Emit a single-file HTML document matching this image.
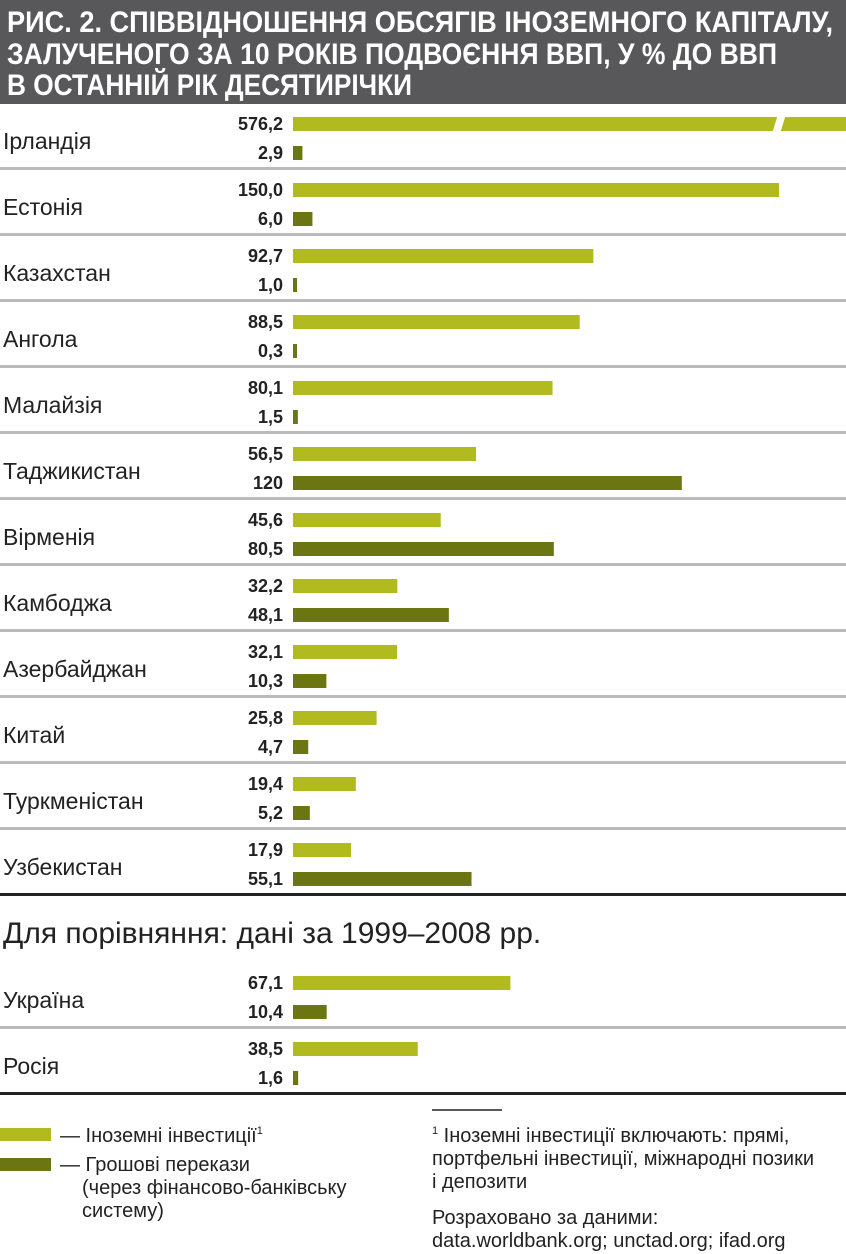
<!DOCTYPE html>
<html><head><meta charset="utf-8"><style>
html,body{margin:0;padding:0;background:#fff;}
svg{display:block;}
</style></head><body>
<svg id="chart" width="846" height="1254" xmlns="http://www.w3.org/2000/svg" font-family="'Liberation Sans', sans-serif">
<rect x="0" y="0" width="846" height="104" fill="#58585a"/>
<g fill="#fff" font-weight="bold" font-size="30">
<text x="7" y="32" textLength="826" lengthAdjust="spacingAndGlyphs">РИС. 2. СПІВВІДНОШЕННЯ ОБСЯГІВ ІНОЗЕМНОГО КАПІТАЛУ,</text>
<text x="7" y="64" textLength="770" lengthAdjust="spacingAndGlyphs">ЗАЛУЧЕНОГО ЗА 10 РОКІВ ПОДВОЄННЯ ВВП, У % ДО ВВП</text>
<text x="7" y="95" textLength="405" lengthAdjust="spacingAndGlyphs">В ОСТАННІЙ РІК ДЕСЯТИРІЧКИ</text>
</g>
<g id="bars"></g>
<text x="3" y="943" font-size="30" fill="#222">Для порівняння: дані за 1999–2008 рр.</text>
<g font-size="20" fill="#222">
<rect x="0" y="1128" width="51" height="13" fill="#b1bb20"/>
<text x="60" y="1142">— Іноземні інвестиції<tspan font-size="11" dy="-8">1</tspan></text>
<rect x="0" y="1158" width="51" height="13" fill="#6b7511"/>
<text x="60" y="1171">— Грошові перекази</text>
<text x="82" y="1194">(через фінансово-банківську</text>
<text x="82" y="1217">систему)</text>
</g>
<g font-size="20" fill="#222">
<line x1="432" y1="1110" x2="502" y2="1110" stroke="#222" stroke-width="1.5"/>
<text x="432" y="1142"><tspan font-size="11" dy="-8">1</tspan><tspan dy="8"> Іноземні інвестиції включають: прямі,</tspan></text>
<text x="432" y="1165">портфельні інвестиції, міжнародні позики</text>
<text x="432" y="1188">і депозити</text>
<text x="432" y="1224">Розраховано за даними:</text>
<text x="432" y="1247">data.worldbank.org; unctad.org; ifad.org</text>
</g>
</svg>
<script>
const countries = ["Ірландія","Естонія","Казахстан","Ангола","Малайзія","Таджикистан","Вірменія","Камбоджа","Азербайджан","Китай","Туркменістан","Узбекистан","Україна","Росія"];
const foreignInvest = [576.2,150.0,92.7,88.5,80.1,56.5,45.6,32.2,32.1,25.8,19.4,17.9,67.1,38.5];
const remittances = [2.9,6.0,1.0,0.3,1.5,120,80.5,48.1,10.3,4.7,5.2,55.1,10.4,1.6];
const foreignLabels = ["576,2","150,0","92,7","88,5","80,1","56,5","45,6","32,2","32,1","25,8","19,4","17,9","67,1","38,5"];
const remitLabels = ["2,9","6,0","1,0","0,3","1,5","120","80,5","48,1","10,3","4,7","5,2","55,1","10,4","1,6"];

const NS="http://www.w3.org/2000/svg";
const g=document.getElementById('bars');
const X0=293, PX=3.24, MAXX=846;
function xw(v){return Math.min(MAXX-X0, Math.max(4, v*PX));}
function groupTop(i){return i<12 ? 117+66*i : 976+66*(i-12);}
function mk(tag,attrs){const e=document.createElementNS(NS,tag);for(const k in attrs)e.setAttribute(k,attrs[k]);g.appendChild(e);return e;}
countries.forEach((c,i)=>{
  const t=groupTop(i);
  const lab=mk('text',{x:3,y:t+32,'font-size':23,fill:'#222'});
  lab.textContent=c;
  
  
  const b1=mk('rect',{x:X0,y:t,width:xw(foreignInvest[i]),height:14,fill:'#b1bb20'});
  
  
  const b2=mk('rect',{x:X0,y:t+29,width:xw(remittances[i]),height:14,fill:'#6b7511'});
  
  
  const v1=mk('text',{x:283,y:t+13,'font-size':18,'font-weight':'bold','text-anchor':'end',fill:'#222'});
  v1.textContent=foreignLabels[i];
  
  
  const v2=mk('text',{x:283,y:t+42,'font-size':18,'font-weight':'bold','text-anchor':'end',fill:'#222'});
  v2.textContent=remitLabels[i];
  
  
  if(foreignInvest[i]*PX>MAXX-X0){
    const br=mk('polygon',{points:`${X0+478},${t+20} ${X0+486},${t-6} ${X0+494},${t-6} ${X0+486},${t+20}`,fill:'#fff'});
    
    
  }
  const sy=t+50;
  const col=(i===11||i===13)?'#222':'#bbb';
  const s=mk('rect',{x:0,y:sy,width:846,height:3,fill:col});
  
  
});
</script>
</body></html>
